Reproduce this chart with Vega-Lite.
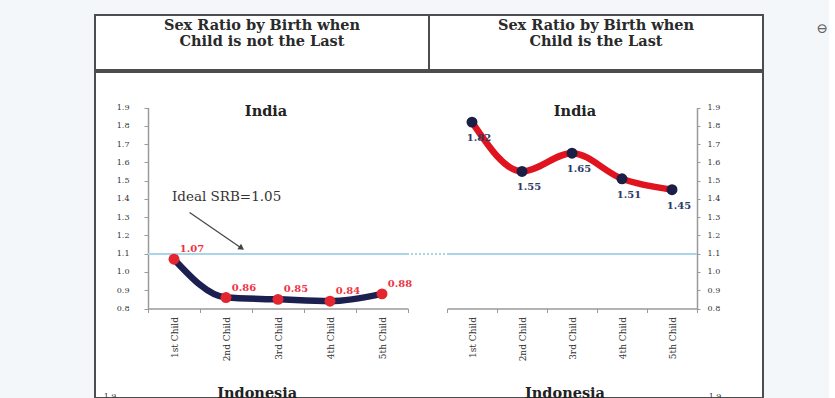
{
  "$schema": "https://vega.github.io/schema/vega-lite/v6.json",
  "background": "#f4f7fa",
  "padding": {"left": 90, "top": 13, "right": 0, "bottom": 0},
  "config": {
    "font": "DejaVu Serif",
    "concat": {"spacing": -3},
    "axis": {
      "labelFont": "DejaVu Serif",
      "labelColor": "#333333",
      "domainColor": "#9a9a9a",
      "domainWidth": 1.5,
      "tickColor": "#9a9a9a",
      "grid": false,
      "title": null
    }
  },
  "datasets": {
    "header": [
      {"col": "notLast", "text": "Sex Ratio by Birth when\nChild is not the Last"},
      {"col": "last", "text": "Sex Ratio by Birth when\nChild is the Last"}
    ],
    "notLast": [
      {"child": "1st Child", "srb": 1.07, "label": "1.07"},
      {"child": "2nd Child", "srb": 0.86, "label": "0.86"},
      {"child": "3rd Child", "srb": 0.85, "label": "0.85"},
      {"child": "4th Child", "srb": 0.84, "label": "0.84"},
      {"child": "5th Child", "srb": 0.88, "label": "0.88"}
    ],
    "last": [
      {"child": "1st Child", "srb": 1.82, "label": "1.82"},
      {"child": "2nd Child", "srb": 1.55, "label": "1.55"},
      {"child": "3rd Child", "srb": 1.65, "label": "1.65"},
      {"child": "4th Child", "srb": 1.51, "label": "1.51"},
      {"child": "5th Child", "srb": 1.45, "label": "1.45"}
    ]
  },
  "vconcat": [
    {
      "width": 668,
      "height": 55,
      "view": {"fill": "white", "stroke": "#4d4d4d", "strokeWidth": 2},
      "data": {"name": "header"},
      "layer": [
        {
          "mark": {"type": "text", "font": "DejaVu Serif", "fontWeight": "bold", "fontSize": 14.5, "lineHeight": 16, "lineBreak": "\n", "dy": -16.5, "color": "#2a2a2a"},
          "encoding": {
            "x": {"field": "col", "type": "nominal", "scale": {"type": "band", "domain": ["notLast", "last"], "paddingInner": 0, "paddingOuter": 0}, "axis": null},
            "text": {"field": "text"}
          }
        },
        {
          "mark": {"type": "rule", "color": "#4d4d4d", "strokeWidth": 2},
          "encoding": {"x": {"datum": "last", "type": "nominal", "bandPosition": 0}}
        },
        {
          "data": {"values": [{"col": "last", "icon": "⊖"}]},
          "mark": {"type": "text", "fontSize": 14, "color": "#666666", "dx": 59, "dy": -14},
          "encoding": {
            "x": {"field": "col", "type": "nominal", "bandPosition": 1},
            "text": {"field": "icon"}
          }
        }
      ]
    },
    {
      "width": 668,
      "height": 326,
      "view": {"fill": "white", "stroke": "#4d4d4d", "strokeWidth": 2},
      "resolve": {"scale": {"x": "independent"}, "axis": {"x": "independent", "y": "independent"}},
      "layer": [
        {
          "data": {"name": "notLast"},
          "encoding": {
            "x": {
              "field": "child", "type": "nominal",
              "scale": {"type": "band", "domain": ["1st Child", "2nd Child", "3rd Child", "4th Child", "5th Child"], "range": [53, 313], "paddingInner": 0, "paddingOuter": 0},
              "axis": {"orient": "bottom", "offset": -89.5, "labelAngle": -90, "labelFontSize": 9, "tickBand": "extent", "tickSize": 4, "labelPadding": 4}
            },
            "y": {
              "field": "srb", "type": "quantitative",
              "scale": {"domain": [0.8, 1.9], "range": [236.5, 35.5], "nice": false, "zero": false},
              "axis": {"orient": "left", "offset": -53, "values": [0.8, 0.9, 1.0, 1.1, 1.2, 1.3, 1.4, 1.5, 1.6, 1.7, 1.8, 1.9], "format": ".1f", "labelFontSize": 8, "tickSize": 4, "labelPadding": 15}
            }
          },
          "layer": [
            {
              "mark": {"type": "rule", "color": "#a6d6e9", "strokeWidth": 1.5},
              "encoding": {
                "x": {"datum": "1st Child", "bandPosition": 0},
                "x2": {"datum": "5th Child", "bandPosition": 1},
                "y": {"datum": 1.1}
              }
            },
            {
              "mark": {"type": "line", "interpolate": "monotone", "color": "#1b2050", "strokeWidth": 6.5}
            },
            {
              "mark": {"type": "circle", "color": "#e3262f", "size": 120, "opacity": 1}
            },
            {
              "mark": {"type": "text", "color": "#ee3344", "fontWeight": "bold", "fontSize": 10, "dx": 18, "dy": -10},
              "encoding": {"text": {"field": "label"}}
            },
            {
              "data": {"values": [{"child": "1st Child", "srb": 1.41, "note": "Ideal SRB=1.05"}]},
              "mark": {"type": "text", "align": "left", "fontSize": 13.5, "color": "#333333"},
              "encoding": {
                "x": {"field": "child", "type": "nominal", "bandPosition": 0.46},
                "text": {"field": "note"}
              }
            },
            {
              "data": {"values": [{"child": "1st Child", "srb": 1.325}, {"child": "2nd Child", "srb": 1.13}]},
              "mark": {"type": "line", "color": "#444444", "strokeWidth": 1.2},
              "encoding": {"x": {"field": "child", "type": "nominal", "bandPosition": 0.8}}
            },
            {
              "data": {"values": [{"child": "2nd Child", "srb": 1.13}]},
              "mark": {"type": "point", "shape": "triangle-right", "filled": true, "angle": 34, "size": 45, "color": "#444444", "opacity": 1},
              "encoding": {"x": {"field": "child", "type": "nominal", "bandPosition": 0.8}}
            },
            {
              "data": {"values": [{"child": "3rd Child", "srb": 1.877, "title": "India"}]},
              "mark": {"type": "text", "fontWeight": "bold", "fontSize": 14.5, "color": "#222222"},
              "encoding": {
                "x": {"field": "child", "type": "nominal", "bandPosition": 0.27},
                "text": {"field": "title"}
              }
            },
            {
              "data": {"values": [{"child": "3rd Child", "srb": 0.37, "title": "Indonesia"}]},
              "mark": {"type": "text", "fontWeight": "bold", "fontSize": 14.5, "color": "#222222", "baseline": "top", "clip": true},
              "encoding": {
                "x": {"field": "child", "type": "nominal", "bandPosition": 0.1},
                "text": {"field": "title"}
              }
            },
            {
              "data": {"values": [{"child": "1st Child", "srb": 0.34, "tick": "1.9"}]},
              "mark": {"type": "text", "fontSize": 8, "color": "#333333", "baseline": "top", "clip": true},
              "encoding": {
                "x": {"field": "child", "type": "nominal", "bandPosition": -0.73},
                "text": {"field": "tick"}
              }
            }
          ]
        },
        {
          "data": {"name": "last"},
          "encoding": {
            "x": {
              "field": "child", "type": "nominal",
              "scale": {"type": "band", "domain": ["1st Child", "2nd Child", "3rd Child", "4th Child", "5th Child"], "range": [352, 602], "paddingInner": 0, "paddingOuter": 0},
              "axis": {"orient": "bottom", "offset": -89.5, "labelAngle": -90, "labelFontSize": 9, "tickBand": "extent", "tickSize": 4, "labelPadding": 4}
            },
            "y": {
              "field": "srb", "type": "quantitative",
              "scale": {"domain": [0.8, 1.9], "range": [236.5, 35.5], "nice": false, "zero": false},
              "axis": {"orient": "right", "offset": -66, "values": [0.8, 0.9, 1.0, 1.1, 1.2, 1.3, 1.4, 1.5, 1.6, 1.7, 1.8, 1.9], "format": ".1f", "labelFontSize": 8, "tickSize": 3, "labelPadding": 7}
            }
          },
          "layer": [
            {
              "mark": {"type": "rule", "color": "#a6d6e9", "strokeWidth": 1.5, "strokeDash": [2, 2]},
              "encoding": {
                "x": {"datum": "1st Child", "bandPosition": -0.8},
                "x2": {"datum": "1st Child", "bandPosition": 0},
                "y": {"datum": 1.1}
              }
            },
            {
              "mark": {"type": "rule", "color": "#a6d6e9", "strokeWidth": 1.5},
              "encoding": {
                "x": {"datum": "1st Child", "bandPosition": 0},
                "x2": {"datum": "5th Child", "bandPosition": 1},
                "y": {"datum": 1.1}
              }
            },
            {
              "mark": {"type": "line", "interpolate": "monotone", "color": "#e0141e", "strokeWidth": 6.5}
            },
            {
              "mark": {"type": "circle", "color": "#1b1f45", "size": 120, "opacity": 1}
            },
            {
              "mark": {"type": "text", "color": "#2b3a67", "fontWeight": "bold", "fontSize": 10, "dx": 7, "dy": 16},
              "encoding": {"text": {"field": "label"}}
            },
            {
              "data": {"values": [{"child": "3rd Child", "srb": 1.877, "title": "India"}]},
              "mark": {"type": "text", "fontWeight": "bold", "fontSize": 14.5, "color": "#222222"},
              "encoding": {
                "x": {"field": "child", "type": "nominal", "bandPosition": 0.56},
                "text": {"field": "title"}
              }
            },
            {
              "data": {"values": [{"child": "3rd Child", "srb": 0.37, "title": "Indonesia"}]},
              "mark": {"type": "text", "fontWeight": "bold", "fontSize": 14.5, "color": "#222222", "baseline": "top", "clip": true},
              "encoding": {
                "x": {"field": "child", "type": "nominal", "bandPosition": 0.36},
                "text": {"field": "title"}
              }
            },
            {
              "data": {"values": [{"child": "5th Child", "srb": 0.34, "tick": "1.9"}]},
              "mark": {"type": "text", "fontSize": 8, "color": "#333333", "baseline": "top", "clip": true},
              "encoding": {
                "x": {"field": "child", "type": "nominal", "bandPosition": 1.36},
                "text": {"field": "tick"}
              }
            }
          ]
        }
      ]
    }
  ]
}
